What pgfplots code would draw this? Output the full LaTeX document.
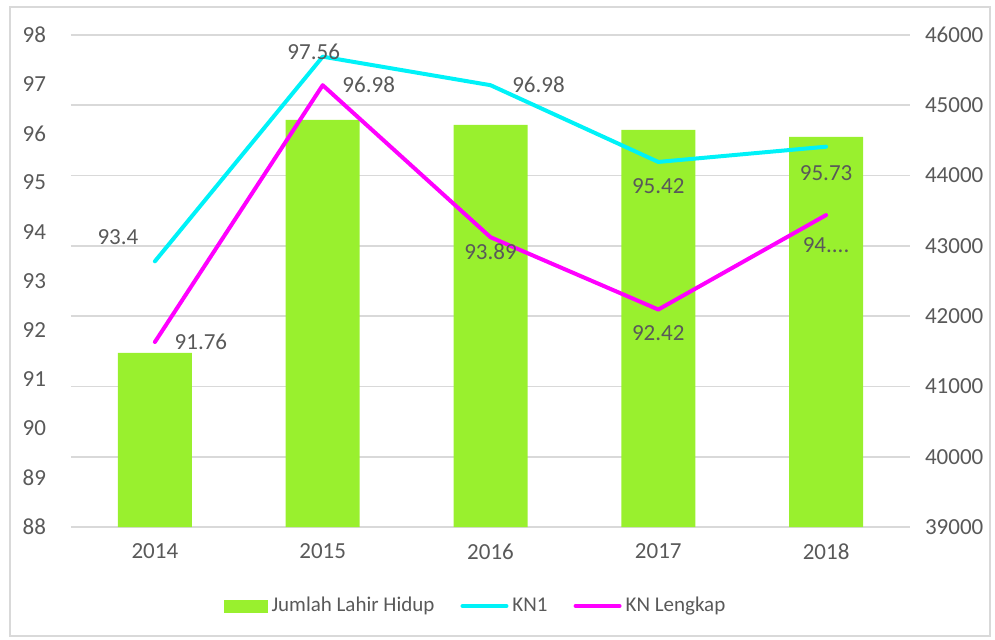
\documentclass[border=0pt]{standalone}
\usepackage{pgfplots}
\pgfplotsset{compat=1.18}
\usepackage{fontspec}
\setmainfont{Carlito}
\definecolor{txt}{HTML}{595959}
\definecolor{barg}{HTML}{99F02E}
\definecolor{grd}{HTML}{D9D9D9}
\definecolor{kcy}{HTML}{00F2F8}
\definecolor{kmg}{HTML}{FF00FF}
\begin{document}
\begin{tikzpicture}
\path (0pt,0pt) rectangle (497.5pt,319.5pt);
\draw[grd, line width=0.8pt] (5pt,1.5pt) rectangle (495pt,316pt);
\pgfplotsset{common/.style={
  at={(35.5pt,56pt)}, anchor=south west,
  width=419.5pt, height=246pt, scale only axis,
  xmin=-0.5, xmax=4.5,
  axis line style={draw=none}, major tick length=0pt,
  tick label style={font=\fontsize{11.5}{13}\selectfont, text=txt},
  /pgf/number format/assume math mode=true,
  /pgf/number format/1000 sep={},
  scaled ticks=false,
}}
\begin{axis}[common,
  ymin=39000, ymax=46000, ytick={39000,40000,...,46000},
  axis y line*=right, axis x line*=bottom,
  ymajorgrids, grid style={grd, line width=0.8pt},
  xtick={0,1,2,3,4}, xticklabels={2014,2015,2016,2017,2018},
  xticklabel style={yshift=-5pt},
  yticklabel style={xshift=4pt},
]
\addplot[ybar, bar width=37pt, fill=barg, draw=none] coordinates {(0,41477) (1,44791) (2,44720) (3,44649) (4,44549)};
\end{axis}
\begin{axis}[common, clip=false,
  ymin=88, ymax=98, ytick={88,89,...,98},
  axis y line*=left, axis x line*=bottom, xtick=\empty,
  yticklabel style={xshift=-9pt},
  legend style={at={(0.5,0)}, anchor=center, yshift=-39.5pt, xshift=-7pt, draw=none, fill=none,
    font=\fontsize{10.5}{13}\selectfont, text=txt, legend columns=3,
    /tikz/every even column/.append style={column sep=11pt}},
]
\addlegendimage{legend image code/.code={\fill[barg] (0pt,-3pt) rectangle (21.5pt,3pt);}}
\addlegendentry{Jumlah Lahir Hidup}
\addplot[kcy, line width=2pt, line join=round, line cap=round,
  legend image code/.code={\draw[kcy, line width=2pt, line cap=round] (0pt,0pt) -- (22pt,0pt);}]
  coordinates {(0,93.4) (1,97.56) (2,96.98) (3,95.42) (4,95.73)};
\addlegendentry{KN1}
\addplot[kmg, line width=2pt, line join=round, line cap=round,
  legend image code/.code={\draw[kmg, line width=2pt, line cap=round] (0pt,0pt) -- (22pt,0pt);}]
  coordinates {(0,91.76) (1,96.98) (2,93.89) (3,92.42) (4,94.34)};
\addlegendentry{KN Lengkap}
\begin{scope}[every node/.style={text=txt, font=\fontsize{11.5}{13}\selectfont}]
\node at ([shift={(-18.5pt,12pt)}]axis cs:0,93.4) {93.4};
\node at ([shift={(-4.5pt,2.5pt)}]axis cs:1,97.56) {97.56};
\node at ([shift={(24pt,0pt)}]axis cs:2,96.98) {96.98};
\node at ([shift={(0pt,-12pt)}]axis cs:3,95.42) {95.42};
\node at ([shift={(0pt,-13pt)}]axis cs:4,95.73) {95.73};
\node at ([shift={(23pt,0pt)}]axis cs:0,91.76) {91.76};
\node at ([shift={(23pt,0pt)}]axis cs:1,96.98) {96.98};
\node at ([shift={(0pt,-7.5pt)}]axis cs:2,93.89) {93.89};
\node at ([shift={(0pt,-12pt)}]axis cs:3,92.42) {92.42};
\node at ([shift={(0pt,-15pt)}]axis cs:4,94.34) {94....};
\end{scope}
\end{axis}
\end{tikzpicture}
\end{document}
